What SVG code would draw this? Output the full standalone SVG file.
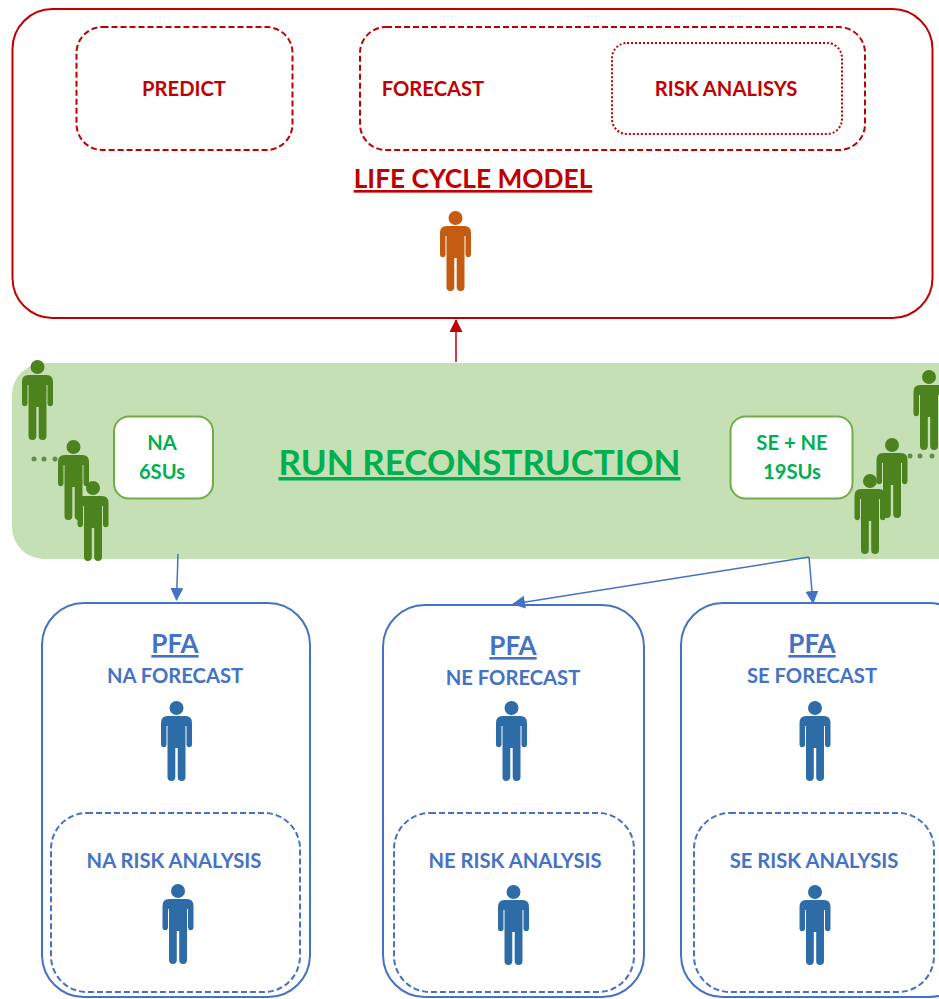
<svg xmlns="http://www.w3.org/2000/svg" width="939" height="999" viewBox="0 0 939 999">
<style>
text{font-family:Lato,"Liberation Sans",sans-serif;font-weight:700;text-anchor:middle}
.red{fill:#c00000}.grn{fill:#00b050}.blu{fill:#4472c4}
.t20{font-size:20.200px}
.rb{fill:#fff;stroke:#c00000;stroke-width:2}
.rd{fill:#fff;stroke:#c00000;stroke-width:2;stroke-dasharray:6 3}
.rp{fill:#fff;stroke:#c00000;stroke-width:2;stroke-dasharray:2 2}
.bb{fill:#fff;stroke:#4472c4;stroke-width:2}
.bd{fill:#fff;stroke:#4472c4;stroke-width:2;stroke-dasharray:6 3}
.gb{fill:#fff;stroke:#70ad47;stroke-width:2}
.po{fill:#c55a11}.pb{fill:#2e6ca8}.pg{fill:#4c831f}
.dot{fill:#5f8f47}
</style>
<defs>
<g id="person"><circle cx="0" cy="7" r="7"/><path d="M-9 15H9Q15.500 15 15.500 22V44A2.800 2.800 0 0 1 10 44V25H9V76A3.900 3.900 0 0 1 1.200 76V47H-1.200V76A3.900 3.900 0 0 1 -9 76V25H-10V44A2.800 2.800 0 0 1 -15.500 44V22Q-15.500 15 -9 15Z"/></g>
<marker id="ah-red" markerWidth="14" markerHeight="13" refX="12" refY="6.500" orient="auto" markerUnits="userSpaceOnUse"><path d="M0 0L13 6.500L0 13Z" fill="#c00000"/></marker>
<marker id="ah-blue" markerWidth="14" markerHeight="13" refX="12" refY="6.500" orient="auto" markerUnits="userSpaceOnUse"><path d="M0 0L13 6.500L0 13Z" fill="#4472c4"/></marker>
</defs>
<rect width="939" height="999" fill="#fff"/>

<g id="life-cycle-model">
<rect class="rb" x="12.500" y="9" width="920" height="309" rx="40"/>
<g id="predict"><rect class="rd" x="76.500" y="27" width="216" height="123" rx="26"/><text class="red t20" x="184" y="96">PREDICT</text></g>
<g id="forecast"><rect class="rd" x="360" y="27" width="505" height="123" rx="26"/><text class="red t20" x="433" y="96">FORECAST</text></g>
<g id="risk-analisys"><rect class="rp" x="612" y="43" width="230" height="91" rx="15"/><text class="red t20" x="726" y="96">RISK ANALISYS</text></g>
<text class="red" x="473" y="188" font-size="26.300" text-decoration="underline">LIFE CYCLE MODEL</text>
<use href="#person" class="po" x="455.500" y="211"/>
</g>

<g id="run-reconstruction">
<rect x="12" y="363" width="960" height="196" rx="32" fill="#c5e0b4"/>
<text class="grn" x="479.500" y="475" font-size="35" text-decoration="underline">RUN RECONSTRUCTION</text>
</g>
<g id="na-sus">
<rect class="gb" x="114" y="416.500" width="99" height="82" rx="15"/>
<text class="grn t20" x="162" y="450">NA</text><text class="grn t20" x="162" y="479">6SUs</text>
</g>
<g id="se-ne-sus">
<rect class="gb" x="730.500" y="416.500" width="122" height="82" rx="15"/>
<text class="grn t20" x="792" y="450">SE + NE</text><text class="grn t20" x="792" y="479">19SUs</text>
</g>
<g id="na-people">
<circle class="dot" cx="34" cy="459" r="2.500"/><circle class="dot" cx="44" cy="459" r="2.500"/><circle class="dot" cx="55" cy="459" r="2.500"/>
<use href="#person" class="pg" x="37.500" y="360"/>
<use href="#person" class="pg" x="73.500" y="440"/>
<use href="#person" class="pg" x="93" y="481"/>
</g>
<g id="se-ne-people">
<circle class="dot" cx="910" cy="456" r="2.500"/><circle class="dot" cx="920" cy="456" r="2.500"/><circle class="dot" cx="932" cy="456" r="2.500"/>
<use href="#person" class="pg" x="929" y="370"/>
<use href="#person" class="pg" x="892" y="438"/>
<use href="#person" class="pg" x="870" y="474"/>
</g>

<g id="pfa-na">
<rect class="bb" x="42" y="603" width="268" height="394" rx="42"/>
<text class="blu" x="175" y="653" font-size="26" text-decoration="underline">PFA</text>
<text class="blu t20" x="175" y="683">NA FORECAST</text>
<use href="#person" class="pb" x="176.500" y="701"/>
<rect class="bd" x="51" y="813" width="249" height="179" rx="36"/>
<text class="blu t20" x="174" y="868">NA RISK ANALYSIS</text>
<use href="#person" class="pb" x="178" y="884"/>
</g>
<g id="pfa-ne">
<rect class="bb" x="383" y="605" width="261" height="392" rx="42"/>
<text class="blu" x="513" y="655" font-size="26" text-decoration="underline">PFA</text>
<text class="blu t20" x="513" y="685">NE FORECAST</text>
<use href="#person" class="pb" x="511.500" y="701"/>
<rect class="bd" x="394" y="813" width="240" height="179" rx="36"/>
<text class="blu t20" x="515" y="868">NE RISK ANALYSIS</text>
<use href="#person" class="pb" x="513.500" y="885"/>
</g>
<g id="pfa-se">
<rect class="bb" x="681" y="603" width="290" height="394" rx="42"/>
<text class="blu" x="812" y="653" font-size="26" text-decoration="underline">PFA</text>
<text class="blu t20" x="812" y="683">SE FORECAST</text>
<use href="#person" class="pb" x="815" y="701"/>
<rect class="bd" x="694" y="813" width="240" height="179" rx="36"/>
<text class="blu t20" x="814" y="868">SE RISK ANALYSIS</text>
<use href="#person" class="pb" x="815" y="885"/>
</g>

<g id="connectors" fill="none" stroke-width="1.500">
<line x1="456" y1="362" x2="456" y2="320" stroke="#c00000" marker-end="url(#ah-red)"/>
<line x1="178" y1="554" x2="176.500" y2="600" stroke="#4472c4" marker-end="url(#ah-blue)"/>
<line x1="809" y1="557" x2="813" y2="603" stroke="#4472c4" marker-end="url(#ah-blue)"/>
<line x1="809" y1="557" x2="513" y2="604" stroke="#4472c4" marker-end="url(#ah-blue)"/>
</g>
</svg>
